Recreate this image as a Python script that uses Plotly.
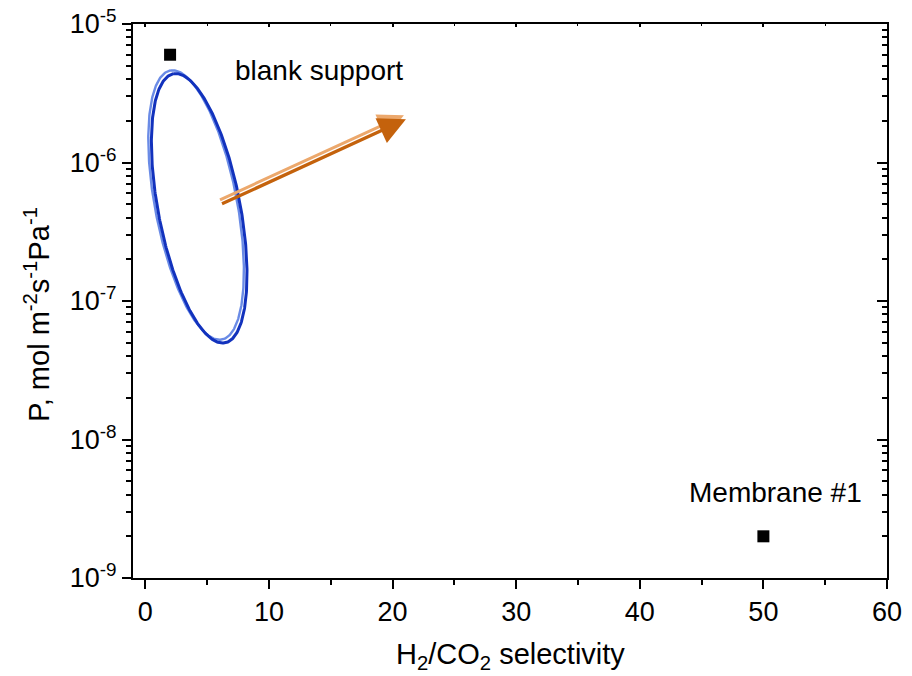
import numpy as np
import plotly.graph_objects as go

# ---- data ----
point_names = ["blank support", "Membrane #1"]
selectivity = [2, 50]
permeance = [6e-6, 2e-9]

x_ticks = [0, 10, 20, 30, 40, 50, 60]
x_minor_ticks = [5, 15, 25, 35, 45, 55]
y_tickvals = [1e-9, 1e-8, 1e-7, 1e-6, 1e-5]
y_ticktext = ["10<sup>-9</sup>", "10<sup>-8</sup>", "10<sup>-7</sup>", "10<sup>-6</sup>", "10<sup>-5</sup>"]

x_title = "H<sub>2</sub>/CO<sub>2</sub> selectivity"
y_title = "P, mol m<sup>-2</sup>s<sup>-1</sup>Pa<sup>-1</sup>"

# highlight ellipse (centre in data units, axes in screen pixels)
ellipse_center = (4.25, 10 ** -6.32)
ellipse_semi_px = (137, 41)
ellipse_tilt_deg = 10.85

# trend arrow (tail -> head, data units)
arrow_tail = (6.0, 5.1e-7)
arrow_head = (21.0, 2.1e-6)

# ---- layout geometry ----
W, H = 912, 676
ML, MR, MT, MB = 133, 25, 24, 98
x_range = [-1, 60]
y_range_log = [-9, -5]
px_per_x = (W - ML - MR) / (x_range[1] - x_range[0])
px_per_dec = (H - MT - MB) / (y_range_log[1] - y_range_log[0])

FONT = "Liberation Sans, Arial, sans-serif"


def ellipse_xy(dx_px=0.0, dy_px=0.0):
    t = np.linspace(0, 2 * np.pi, 400)
    a, b = ellipse_semi_px
    phi = np.radians(ellipse_tilt_deg)
    u = np.array([-np.sin(phi), -np.cos(phi)])
    v = np.array([np.cos(phi), -np.sin(phi)])
    px = a * np.cos(t) * u[0] + b * np.sin(t) * v[0] + dx_px
    py = a * np.cos(t) * u[1] + b * np.sin(t) * v[1] + dy_px
    xs = ellipse_center[0] + px / px_per_x
    ys = 10 ** (np.log10(ellipse_center[1]) - py / px_per_dec)
    return xs, ys


fig = go.Figure()

ex, ey = ellipse_xy(-1.8, -1.8)
fig.add_trace(go.Scatter(x=ex, y=ey, mode="lines", line=dict(color="#6a8be6", width=2.4),
                         hoverinfo="skip", showlegend=False))
ex, ey = ellipse_xy(1.3, 1.5)
fig.add_trace(go.Scatter(x=ex, y=ey, mode="lines", line=dict(color="#1232bd", width=3),
                         hoverinfo="skip", showlegend=False))

fig.add_trace(go.Scatter(x=selectivity, y=permeance, mode="markers",
                         marker=dict(symbol="square", size=12, color="black"),
                         showlegend=False))
# invisible trace to activate the top / right mirror axes
fig.add_trace(go.Scatter(x=selectivity, y=permeance, mode="markers", xaxis="x2", yaxis="y2",
                         marker=dict(opacity=0), hoverinfo="skip", showlegend=False))

# arrow: light layer, then dark layer
for col, xs, ys, w in [("#eca86c", -1, -2.5, 3), ("#c4620c", 1, 1.5, 3.2)]:
    fig.add_annotation(x=arrow_head[0], y=np.log10(arrow_head[1]),
                       ax=arrow_tail[0], ay=np.log10(arrow_tail[1]),
                       xref="x", yref="y", axref="x", ayref="y",
                       text="", showarrow=True, arrowhead=2, arrowsize=1.7,
                       arrowwidth=w, arrowcolor=col, xshift=xs, yshift=-ys)

fig.add_annotation(x=2, y=np.log10(6e-6), xref="x", yref="y", text="blank support",
                   showarrow=False, xshift=149, yshift=-16,
                   font=dict(family=FONT, size=28, color="black"))
fig.add_annotation(x=50, y=np.log10(2e-9), xref="x", yref="y", text="Membrane #1",
                   showarrow=False, xshift=12, yshift=44,
                   font=dict(family=FONT, size=28, color="black"))

# axis titles
fig.add_annotation(x=0.5, y=0, xref="paper", yref="paper", text=x_title, showarrow=False,
                   xanchor="center", yanchor="middle", xshift=0, yshift=-78,
                   font=dict(family=FONT, size=29, color="black"))
fig.add_annotation(x=0, y=0.475, xref="paper", yref="paper", text=y_title, showarrow=False,
                   textangle=-90, xanchor="center", yanchor="middle", xshift=-96,
                   font=dict(family=FONT, size=29, color="black"))

axis_common = dict(showgrid=False, zeroline=False, linecolor="black", linewidth=2,
                   tickcolor="black", tickwidth=2, automargin=False)

fig.update_layout(
    width=W, height=H,
    margin=dict(l=ML, r=MR, t=MT, b=MB, autoexpand=False),
    paper_bgcolor="white", plot_bgcolor="white",
    font=dict(family=FONT, size=27, color="black"),
    xaxis=dict(range=x_range, tickvals=x_ticks, ticks="outside", ticklen=9, showline=True,
               minor=dict(tickvals=x_minor_ticks, ticks="outside", ticklen=5,
                          tickcolor="black", tickwidth=2),
               tickfont=dict(size=27), **axis_common),
    xaxis2=dict(range=x_range, overlaying="x", side="top", tickvals=x_ticks,
                ticks="inside", ticklen=3, showticklabels=False, showline=True,
                minor=dict(tickvals=x_minor_ticks, ticks="inside", ticklen=2,
                           tickcolor="black", tickwidth=1),
                **axis_common),
    yaxis=dict(type="log", range=y_range_log, tickvals=y_tickvals, ticktext=y_ticktext,
               ticks="outside", ticklen=9, showline=True,
               minor=dict(dtick="D1", ticks="outside", ticklen=5, tickcolor="black", tickwidth=2),
               tickfont=dict(size=27), **axis_common),
    yaxis2=dict(type="log", range=y_range_log, overlaying="y", side="right",
                tickvals=y_tickvals, ticks="inside", ticklen=10, showticklabels=False,
                showline=True,
                minor=dict(dtick="D1", ticks="inside", ticklen=5, tickcolor="black", tickwidth=2),
                **axis_common),
)

fig.write_html("out.html", config={"displayModeBar": False},
               post_script="document.body.style.margin='0';")
